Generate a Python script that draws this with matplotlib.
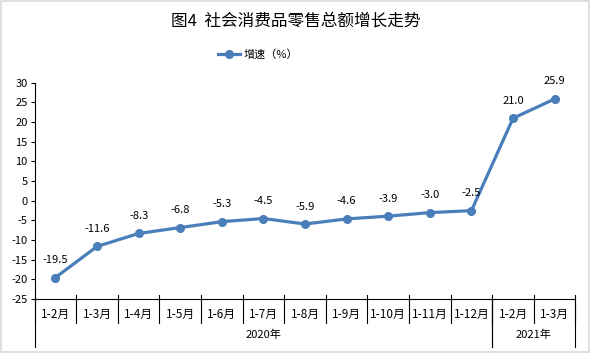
import matplotlib
matplotlib.use('Agg')
import matplotlib.pyplot as plt
from matplotlib.patches import Rectangle
import numpy as np

plt.rcParams['font.family'] = ['Noto Sans CJK SC', 'DejaVu Sans']

months = ['1-2月', '1-3月', '1-4月', '1-5月', '1-6月', '1-7月', '1-8月',
          '1-9月', '1-10月', '1-11月', '1-12月', '1-2月', '1-3月']
years = ['2020年', '2021年']
year_counts = [11, 2]
growth = [-19.5, -11.6, -8.3, -6.8, -5.3, -4.5, -5.9, -4.6, -3.9, -3.0, -2.5, 21.0, 25.9]
yticks = list(range(-25, 31, 5))

blue = '#4a7ebb'

fig = plt.figure(figsize=(5.91, 3.54), dpi=100)
fig.patches.append(Rectangle((0.002, 0.006), 0.995, 0.991, transform=fig.transFigure,
                             fill=False, edgecolor='#d9d9d9', linewidth=1.2))
ax = fig.add_axes([0.0587, 0.155, 0.915, 0.611])

x = np.arange(len(growth))
ax.plot(x, growth, color=blue, linewidth=2.3, marker='o', markersize=5.5,
        label='增速（%）')
for xi, v in zip(x, growth):
    ax.annotate(f'{v:.1f}', (xi, v), xytext=(0, 9), textcoords='offset points',
                ha='center', va='bottom', fontsize=8)

ax.set_xlim(-0.5, len(growth) - 0.5)
ax.set_ylim(-25, 30)
ax.set_yticks(yticks)
ax.set_yticklabels([str(t) for t in yticks], fontsize=8)
ax.tick_params(axis='y', direction='out', length=3, width=0.8, pad=2)
ax.set_xticks([])
for s in ['top', 'right']:
    ax.spines[s].set_visible(False)
for s in ['left', 'bottom']:
    ax.spines[s].set_color('black')
    ax.spines[s].set_linewidth(0.8)

# two-level category axis
trans = ax.get_xaxis_transform()
for b in np.arange(len(growth) + 1) - 0.5:
    ax.plot([b, b], [0.019, -0.112], transform=trans, color='black', lw=0.8, clip_on=False)
for xi, m in zip(x, months):
    ax.text(xi, -0.07, m, transform=trans, ha='center', va='center', fontsize=8.5)
start = 0
for yr, n in zip(years, year_counts):
    for b in (start - 0.5, start + n - 0.5):
        ax.plot([b, b], [0, -0.223], transform=trans, color='black', lw=0.8, clip_on=False)
    ax.text(start + (n - 1) / 2, -0.163, yr, transform=trans, ha='center', va='center',
            fontsize=8)
    start += n

fig.text(0.5, 0.94, '图4  社会消费品零售总额增长走势', ha='center', va='center', fontsize=12)
fig.legend(loc='center', bbox_to_anchor=(0.436, 0.845), frameon=False, fontsize=8,
           handlelength=2.0, handletextpad=0.3)

fig.savefig('out.png', dpi=100)
